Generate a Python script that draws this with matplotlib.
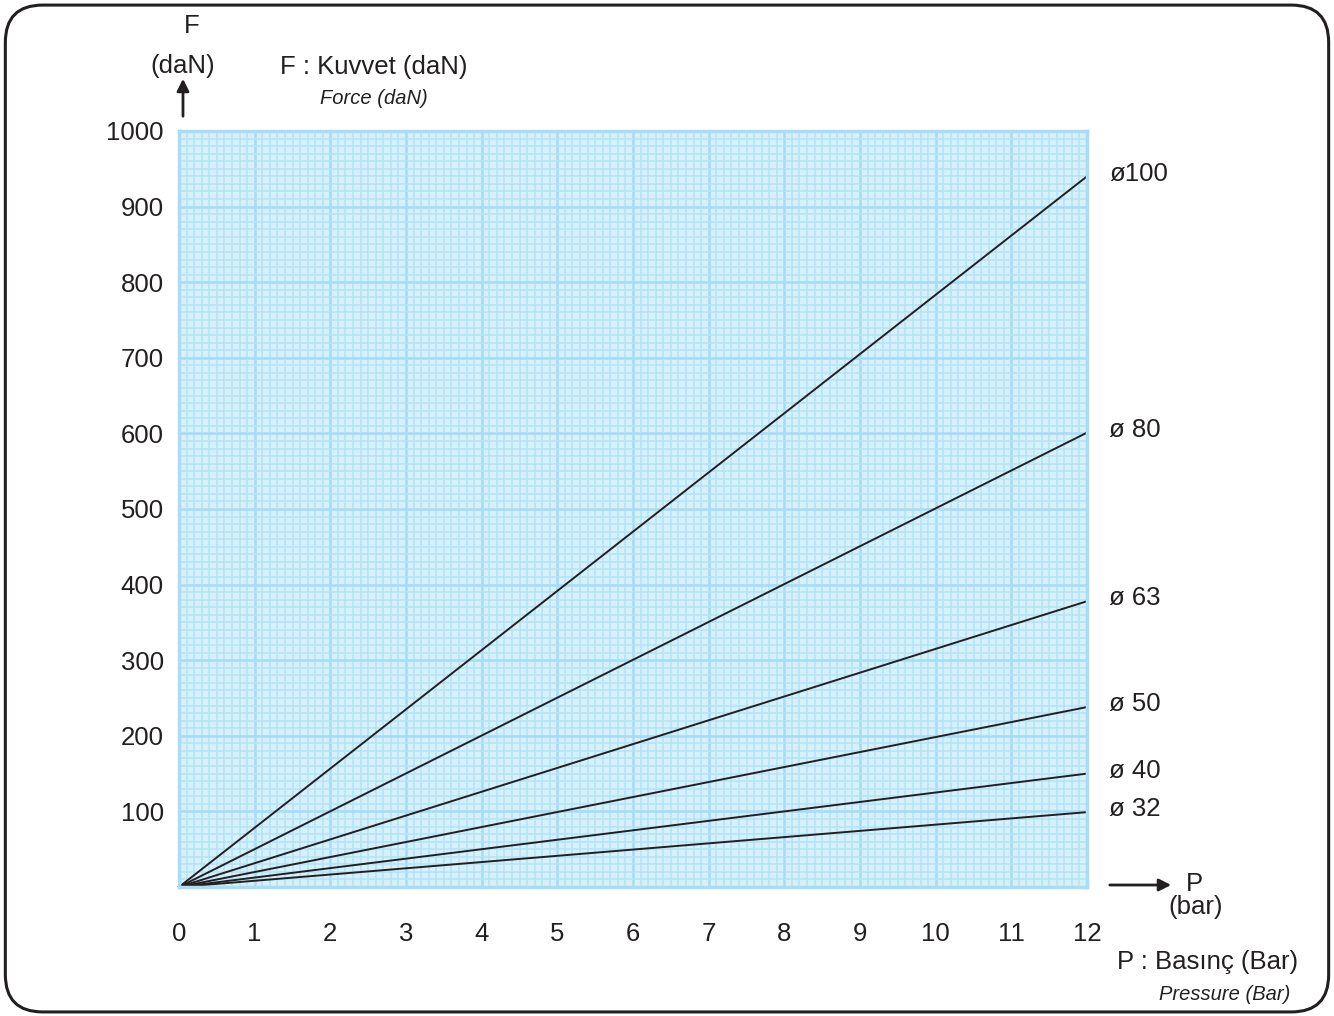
import matplotlib
matplotlib.use("Agg")
import matplotlib.pyplot as plt
from matplotlib.patches import FancyBboxPatch, FancyArrowPatch
from matplotlib.ticker import MultipleLocator

plt.rcParams['font.family'] = ['Liberation Sans', 'DejaVu Sans']

# ------------------- Data: ---------------------------------------------------------
pressure = [0, 12]                      # bar
diameters = ['ø100', 'ø 80', 'ø 63', 'ø 50', 'ø 40', 'ø 32']
force_at_12 = [940, 601, 378, 238, 150, 99]   # daN at 12 bar

x_ticks = list(range(0, 13))
y_ticks = [100, 200, 300, 400, 500, 600, 700, 800, 900, 1000]

# ------------------- Plotting: -----------------------------------------------------
W, H = 1334, 1016
ink = '#231f20'
fs = 18.5
fs_small = 14.5

fig = plt.figure(figsize=(W / 100, H / 100), dpi=100)

# rounded frame around everything
frame = FancyBboxPatch((0.004, 0.004), 0.992, 0.991,
                       boxstyle="round,pad=0,rounding_size=0.028",
                       transform=fig.transFigure, fill=False,
                       edgecolor=ink, linewidth=2.2,
                       mutation_aspect=W / H)
fig.patches.append(frame)

ax = fig.add_axes([179 / W, 1 - 887 / H, 908 / W, 756 / H])
ax.set_facecolor('#d6f0fc')
ax.set_xlim(0, 12)
ax.set_ylim(0, 1000)

ax.xaxis.set_major_locator(MultipleLocator(1))
ax.xaxis.set_minor_locator(MultipleLocator(0.1))
ax.yaxis.set_major_locator(MultipleLocator(100))
ax.yaxis.set_minor_locator(MultipleLocator(10))
ax.grid(which='minor', color='#b4e3f8', linewidth=1.1)
ax.grid(which='major', color='#a6dcf5', linewidth=1.8)
ax.set_axisbelow(True)

for s in ax.spines.values():
    s.set_color('#a8ddf5')
    s.set_linewidth(2.5)

ax.set_xticks(x_ticks)
ax.set_xticklabels([str(t) for t in x_ticks])
ax.set_yticks(y_ticks)
ax.set_yticklabels([str(t) for t in y_ticks])
ax.tick_params(which='both', length=0)
ax.tick_params(axis='x', pad=25, labelsize=fs, colors=ink)
ax.tick_params(axis='y', pad=11, labelsize=fs, colors=ink)

for name, f in zip(diameters, force_at_12):
    ax.plot(pressure, [0, f], color=ink, linewidth=1.4, clip_on=False)
    ax.annotate(name, xy=(12, f), xytext=(16, 2), textcoords='offset points',
                fontsize=fs, color=ink, va='center', ha='left',
                annotation_clip=False)

# axis arrows and labels
fig.patches.append(FancyArrowPatch(
    (183 / W, 1 - 119 / H), (183 / W, 1 - 76 / H),
    transform=fig.transFigure, arrowstyle='-|>', mutation_scale=18,
    color=ink, linewidth=2))
fig.patches.append(FancyArrowPatch(
    (1107 / W, 1 - 885 / H), (1174 / W, 1 - 885 / H),
    transform=fig.transFigure, arrowstyle='-|>', mutation_scale=18,
    color=ink, linewidth=2))

fig.text(192 / W, 1 - 26 / H, 'F', fontsize=fs, color=ink, ha='center', va='center')
fig.text(183 / W, 1 - 66 / H, '(daN)', fontsize=fs, color=ink, ha='center', va='center')
fig.text(374 / W, 1 - 67 / H, 'F : Kuvvet (daN)', fontsize=fs, color=ink, ha='center', va='center')
fig.text(374 / W, 1 - 99 / H, 'Force (daN)', fontsize=fs_small, style='italic', color=ink,
         ha='center', va='center')

fig.text(1194 / W, 1 - 884 / H, 'P', fontsize=fs, color=ink, ha='center', va='center')
fig.text(1196 / W, 1 - 907 / H, '(bar)', fontsize=fs, color=ink, ha='center', va='center')
fig.text(1208 / W, 1 - 962 / H, 'P : Basınç (Bar)', fontsize=fs, color=ink, ha='center', va='center')
fig.text(1225 / W, 1 - 994 / H, 'Pressure (Bar)', fontsize=fs_small, style='italic', color=ink,
         ha='center', va='center')

fig.savefig('out.png', dpi=100)
